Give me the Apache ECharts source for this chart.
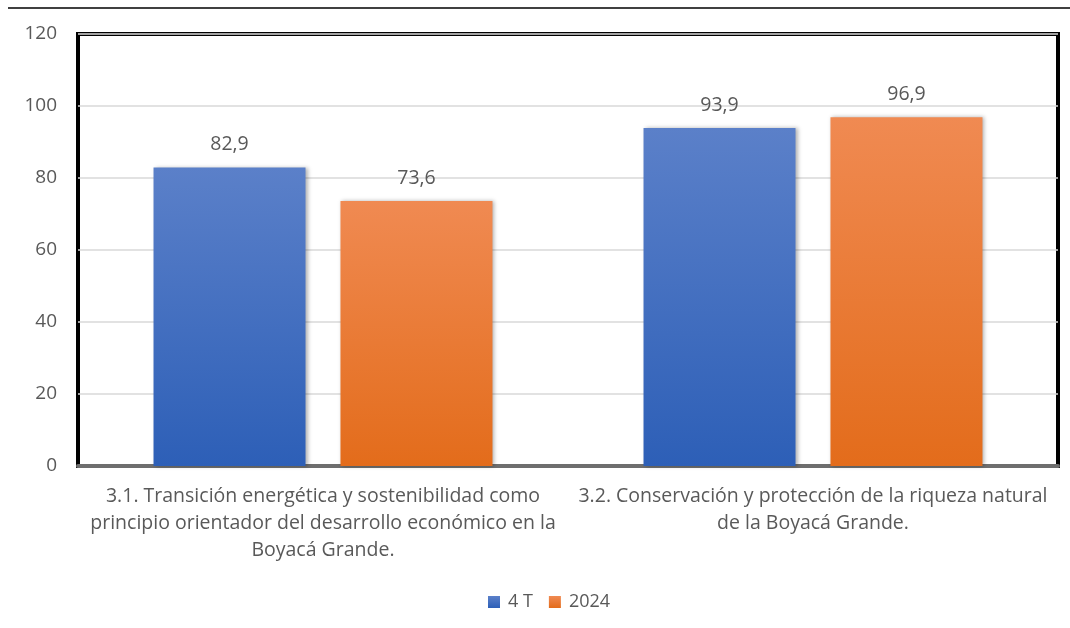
<!DOCTYPE html>
<html>
<head>
<meta charset="utf-8">
<script src="https://cdn.jsdelivr.net/npm/echarts@6/dist/echarts.min.js"></script>
<style>
  html, body { margin: 0; padding: 0; background: #ffffff; }
  #chart { width: 1070px; height: 628px; }
</style>
</head>
<body>
<div id="chart"></div>
<script>
// Chart data
const categories = [
  '3.1. Transición energética y sostenibilidad como\nprincipio orientador del desarrollo económico en la\nBoyacá Grande.',
  '3.2. Conservación y protección de la riqueza natural\nde la Boyacá Grande.'
];
const seriesNames = ['4 T', '2024'];
const values4T = [82.9, 93.9];
const values2024 = [73.6, 96.9];
const yTicks = [0, 20, 40, 60, 80, 100, 120];

const textColor = '#595959';
const fontFamily = '"Open Sans", "Noto Sans", sans-serif';

function grad(top, bottom) {
  return new echarts.graphic.LinearGradient(0, 0, 0, 1, [
    { offset: 0, color: top },
    { offset: 1, color: bottom }
  ]);
}

const commaLabel = {
  show: true,
  position: 'top',
  distance: 13,
  color: textColor,
  fontSize: 19.5,
  fontFamily: fontFamily,
  formatter: p => p.value.toFixed(1).replace('.', ',')
};

const barShadow = {
  shadowBlur: 4,
  shadowOffsetX: 2,
  shadowOffsetY: 0,
  shadowColor: 'rgba(0,0,0,0.3)'
};

const chart = echarts.init(document.getElementById('chart'), null, { renderer: 'canvas' });
chart.setOption({
  animation: false,
  backgroundColor: '#ffffff',
  graphic: [{
    type: 'line',
    shape: { x1: 8, y1: 8, x2: 1070, y2: 8 },
    style: { stroke: '#404040', lineWidth: 2 },
    z: 10
  }],
  grid: {
    left: 78, right: 12, top: 34, bottom: 162,
    show: true,
    borderColor: '#000000',
    borderWidth: 4,
    backgroundColor: '#ffffff'
  },
  legend: {
    bottom: 12,
    left: 483,
    itemWidth: 12,
    itemHeight: 12,
    itemGap: 16,
    icon: 'rect',
    textStyle: { color: textColor, fontSize: 18, fontFamily: fontFamily, padding: [0, 0, 0, 3] },
    data: seriesNames
  },
  xAxis: {
    type: 'category',
    data: categories,
    axisLine: { show: true, lineStyle: { color: '#6e6e6e', width: 4 } },
    axisTick: { show: false },
    axisLabel: {
      color: textColor,
      fontSize: 19.5,
      fontFamily: fontFamily,
      lineHeight: 27,
      margin: 17,
      interval: 0
    }
  },
  yAxis: {
    type: 'value',
    min: yTicks[0],
    max: yTicks[yTicks.length - 1],
    interval: 20,
    axisLine: { show: false },
    axisTick: { show: false },
    splitLine: { lineStyle: { color: '#d9d9d9', width: 1.5 } },
    axisLabel: {
      color: textColor,
      fontSize: 19,
      fontFamily: fontFamily,
      margin: 21
    }
  },
  series: [
    {
      name: seriesNames[0],
      type: 'bar',
      data: values4T,
      barWidth: 152,
      barGap: '23%',
      itemStyle: Object.assign({ color: grad('#5b80c9', '#2d5fb7') }, barShadow),
      label: commaLabel
    },
    {
      name: seriesNames[1],
      type: 'bar',
      data: values2024,
      barWidth: 152,
      barGap: '23%',
      itemStyle: Object.assign({ color: grad('#f08a52', '#e36c1b') }, barShadow),
      label: commaLabel
    }
  ]
});
</script>
</body>
</html>
